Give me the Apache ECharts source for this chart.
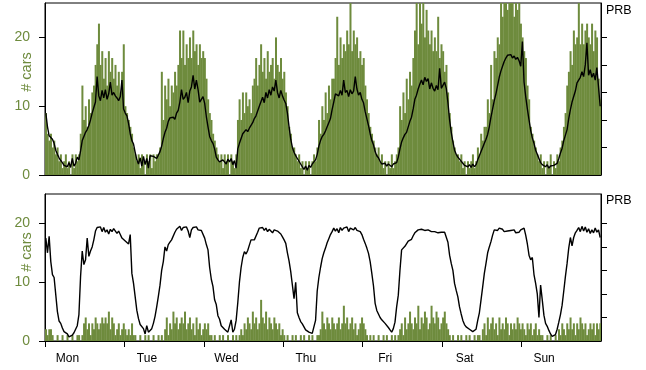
<!DOCTYPE html>
<html>
<head>
<meta charset="utf-8">
<title># cars / PRB</title>
<script src="https://cdn.jsdelivr.net/npm/echarts@6/dist/echarts.min.js"></script>
<style>
  html, body { margin: 0; padding: 0; background: #fff; }
  #chart { width: 646px; height: 370px; }
</style>
</head>
<body>
<div id="chart"></div>
<script>
var dayNames = ["Mon", "Tue", "Wed", "Thu", "Fri", "Sat", "Sun"];
var dayTicks = [0, 24, 48, 72, 96, 120, 144];
var carTicks = [0, 10, 20];
var prbTicks = [4, 8, 12, 16, 20];
var stepHours = 0.5; // one sample every half hour, starting Mon 00:00

// top panel
var carsTop = [
  9,6,5,6,4,5,3,4,2,3, 1,2,3,1,2,0,3,1,3,2, 3,6,13,8,10,7,11,9,12,13, 16,19,22,16,18,14,17,13,18,15, 17,14,16,13,15,12,15,19,
  10,9,8,7,6,4,3,2,3,1, 3,2,0,3,2,3,1,3,2,3, 3,4,15,8,13,11,14,10,13,12, 15,13,16,21,17,21,16,19,17,20, 17,21,18,19,16,19,17,18,
  17,14,11,9,8,6,5,4,3,2, 3,1,3,2,3,0,3,2,1,3, 8,11,8,12,9,12,10,11,9,13, 14,17,13,16,19,15,17,14,18,15, 16,17,14,20,16,15,17,14,
  15,12,10,7,6,4,4,3,2,3, 1,2,0,2,1,2,0,2,3,2, 4,8,6,10,8,12,9,13,11,14, 14,17,23,16,20,17,19,18,21,19, 25,18,21,19,20,17,18,16,
  17,13,11,9,7,6,5,4,3,4, 2,3,1,2,0,2,1,3,1,2, 3,4,10,8,12,9,14,11,15,13, 17,21,25,19,25,22,25,20,24,21, 19,21,18,20,18,23,17,19,
  18,15,16,12,9,7,5,4,3,3, 2,3,1,2,0,2,1,2,3,1, 2,4,3,6,5,7,7,11,9,16, 11,18,17,20,19,25,23,25,25,24, 25,25,25,23,25,24,25,22,
  20,18,17,13,11,7,6,5,4,3, 2,3,1,2,0,2,1,3,0,2, 1,3,2,4,5,7,9,13,15,18, 16,21,19,20,25,19,22,19,21,22, 20,19,22,18,21,20,14,11
];
var prbTop = [
  9,7,5.7,5.5,5.2,4.6,3.6,3,2.5,2.1, 1.8,1.4,1.6,1.2,1.8,1.1,2.4,1.3,1.7,2.6, 2.2,3.5,5,5.6,6.2,6.6,7.2,8,9,9.8, 10.6,14.3,11.5,10.8,12.3,11.2,12.4,11,11.8,13.5, 11.6,12,11.5,11.2,10.8,11.4,13.8,9.6,
  9,8.6,7.5,6,5,4.5,3.3,2.2,1.6,2.5, 1.3,2.7,1.5,2.4,1,2.8,2.9,2.7,2.9,2.4, 2.2,3.4,4.2,5.3,6.2,6.8,7.8,8.3,8.2,8.4, 8.1,9,9.4,10.6,12.4,11,11.3,12,10.5,12.2, 12.8,14.5,12.5,13.8,12.4,10.6,10.4,11.4,
  10.4,8.5,7,5.6,5,4.6,3.8,2.6,2.2,1.9, 1.7,2.2,1.9,1.6,2.3,1.9,2.4,1.5,2.1,1, 3.8,4.6,5.3,6,6.2,6.6,6.3,6.8,7,7.6, 8.2,8.6,9.3,10,10.2,11.3,10.5,12,11.2,12.4, 11.6,12.8,12.2,13.8,12,11.2,12.3,11.5,
  10.9,10.4,9,7,5.2,4,3.3,2.8,2.4,2, 1.6,1.2,0.8,1.3,0.7,1.4,1.1,1.6,1.9,2.2, 3,4.2,5,5.6,5.9,6.4,7,7.6,8.2,9.5, 10.6,11.8,12,11.5,12.3,11.6,13.8,12,12.3,11.4, 12.4,11.8,12.2,14.3,12.5,11.6,12,11,
  10.5,9.2,8.2,7.2,6,5,4.4,3.4,2.8,2.5, 2,1.6,1.4,1.7,1.3,1.6,1.5,1.2,1.6,1.4, 1.8,2.6,3.8,4.8,5.4,5.9,6.2,7,7.8,8.4, 9.6,11,11.6,12.5,13.2,13.8,13.1,14.2,13.6,14, 12.5,13.4,12.6,12.2,13,12.4,15.5,12.6,
  12.8,13.5,12.6,10.5,8,6.2,4.8,3.6,3,2.6, 2.3,2,1.7,1.4,1.6,1.2,1.5,1.1,1.6,1.2, 1.5,2.2,2.8,3.4,4,4.6,5.2,5.9,7,8.4, 9.6,10.8,11.8,13,14.2,15.1,15.8,16.5,17,17.4, 17.2,17.5,17,17.3,16.8,17.1,16.6,15.8,
  19.4,13.5,11.4,9.6,8,6.5,5.4,4.6,3.6,3, 2.4,1.8,1.5,1.4,1.2,1.5,1,1.3,1.1,1.4, 1.2,1.7,2.4,3.2,3.9,5,5.8,6.6,8.2,9.5, 10.6,11.4,12.2,13.4,13.8,14.2,15,14.3,16,19.2, 14.5,15.3,14.2,14.8,13.8,15.6,12.8,10
];

// bottom panel
var carsBottom = [
  2,1,2,2,1,0, 0,1,0,0,1,0,0,1,0,0,1,0,0,1,1,0, 1,3,4,2,3,1,3,2,4,3,2,3,4,3,4,3,5,2,4,3,1,2,3,1,2,3,
  2,1,2,1,3,1,1,0, 0,1,0,0,1,0,1,0,0,1,0,0,1,0,1,0, 2,4,1,3,2,5,3,4,2,3,4,3,5,2,3,4,2,3,1,4,2,3,1,2,
  3,2,3,1, 1,0,1,0,0,1,0,1,0,0,1,0,0,1,0,1,0,1, 2,1,3,2,4,3,2,5,3,4,2,3,7,4,3,5,2,4,3,2,4,3,2,3,1,2,
  1,0,1,0,0,1,0,1,0,0,1,0,1,0,0,1,0,1,0,0,1,1, 2,5,3,2,4,3,2,4,3,2,3,4,2,3,6,3,4,2,3,4,2,3,1,2,3,4,
  3,2,1, 0,1,0,1,0,0,1,0,0,1,0,1,0,0,1,0,1,0,1, 2,3,1,4,2,3,5,3,2,4,3,6,2,4,3,5,4,2,3,6,4,3,5,4,2,3,
  4,5,3,2, 1,0,1,0,0,1,0,1,0,0,1,0,1,0,0,1,0,1,1,0, 2,3,1,4,2,3,4,2,3,1,4,2,3,2,4,3,1,3,2,3,2,4,3,2,
  3,2,1,3,2,3,1,2,3,1,2,1, 1,0,0,1,0,1,0,0,1,0, 2,1,3,2,1,3,2,4,2,3,1,3,2,4,3,2,3,1,2,3,2,3,1,3,2,3
];
var prbBottom = [
  17.5,15,17.8,13.5,11.3,10.8,11,5,3.4,3, 2.2,1.6,1.3,1.2,0.7,0.4,1,1.4,2,2.6, 4.5,11,15.3,13,13.8,17.5,14.4,15.3,16,17.2, 18.7,19.3,19.2,19.4,18.6,19.3,18.5,18.9,18.2,19, 18.6,19.1,18.8,18.3,18.7,18.1,17.5,17.2,
  17,16.8,16.5,18.1,11.5,9.8,7.5,5.2,3.8,2.8, 2.5,2.1,1.2,2.6,1.5,1.8,2.1,3,4.2,5.8, 7.6,9.5,12,13.5,16,15.3,16.4,16.8,17.2,16.9, 18.5,19,19.2,19.5,18.8,19.3,19.1,19.4,18.7,17.6, 18.9,19.3,19.1,19.4,18.9,19.2,18.8,18.7,
  17.5,16.4,15.5,12.5,10.5,9.3,7,6.2,4.3,3.7, 2.6,2.3,2,1.7,1.5,1.3,3.6,1.5,2,3.5, 6.5,10,12.5,14.2,15.2,14.8,15.4,16.3,17.2,17.5, 17.2,17.4,18.5,19.2,19,19.3,18.8,19.2,18.6,19, 19.1,18.4,18.9,19.2,18.7,18.9,18.2,17.7,
  17.2,16.6,15,13.6,11.8,9.5,7.2,10,4.8,4, 3.3,2.9,2.4,1.9,1.7,1.5,1.4,1.3,1.6,3.5, 8.5,10.8,12.5,14,15,15.8,16.7,17.4,18.1,18.6, 19.2,18.7,19.1,18.4,19.3,18.8,19.2,18.9,19.4,18.6, 19.2,19.4,18.9,19.3,18.8,19.1,18.6,18.1,
  17.3,16.6,15.8,14.9,13.5,11.5,9.4,6.4,5.2,4.6, 4,3.6,3.3,3,2.7,2.3,1.9,1.5,2.1,3.2, 5.8,7.8,12,15.5,15.8,16.1,16.4,17,16.7,17.3, 17.9,18.4,18.7,18.9,18.6,19,18.7,18.8,18.5,18.9, 18.7,18.6,18.9,18.6,18.8,18.4,18.7,18.5,
  18.8,18.5,18.6,16.8,14.6,13.2,12,9.8,8.6,7.5, 5.8,4.6,3.5,2.8,2.4,2.1,2,1.8,1.6,1.5, 2,3.5,4.8,7,9.2,11.5,13.2,15,16,16.9, 18,18.9,19.1,18.8,19.2,18.9,19,18.6,18.9,18.7, 18.5,18.8,18.6,18.9,18.4,18.7,18.5,18.9,
  18.7,19.2,18,16.5,14.6,13.8,14.2,11.3,9.8,8, 4,9.5,7,4.4,3,2.5,1.8,1.2,0.8,0.7, 1.1,2,3.2,4.5,6.1,8.5,11,13.2,15.8,17.6, 16.2,17.6,18.4,18.8,19.3,18.6,19.5,18.7,19.4,18.5, 19.1,18.3,18.9,18.4,19.2,18.5,18.9,17.6
];

var green = "#6e8b3d";
var font = "'Liberation Sans', Arial, Helvetica, sans-serif";
var labelShift = 6.8; // day names sit a little right of the midnight tick

function pairs(values) {
  return values.map(function (v, i) {
    return [i * stepHours + stepHours / 2, v];
  });
}

// histogram-like bars: each one fills its half-hour slot, with a hair of overlap
// so the canvas does not leave white seams between neighbours
function renderBar(params, api) {
  var x = api.value(0);
  var v = api.value(1);
  if (!v) return null;
  var topLeft = api.coord([x - stepHours / 2, v]);
  var bottomRight = api.coord([x + stepHours / 2, 0]);
  return {
    type: "rect",
    shape: {
      x: topLeft[0],
      y: topLeft[1],
      width: bottomRight[0] - topLeft[0] + 0.35,
      height: bottomRight[1] - topLeft[1]
    },
    style: { fill: green }
  };
}

function xAxisFor(gridIndex, withLabels) {
  return {
    type: "value",
    gridIndex: gridIndex,
    min: 0,
    max: 168,
    axisLine: { show: true, onZero: false, lineStyle: { color: "#000", width: 1 } },
    axisTick: {
      show: withLabels,
      customValues: dayTicks,
      length: 6,
      lineStyle: { color: "#000" }
    },
    axisLabel: {
      show: withLabels,
      customValues: dayTicks.map(function (d) { return d + labelShift; }),
      formatter: function (v) { return dayNames[Math.floor(v / 24)]; },
      color: "#000",
      fontSize: 12,
      fontFamily: font,
      margin: 12
    },
    splitLine: { show: false }
  };
}

function carsAxis(gridIndex) {
  return {
    type: "value",
    gridIndex: gridIndex,
    position: "left",
    min: 0,
    max: 25,
    axisLine: { show: true, lineStyle: { color: "#000" } },
    axisTick: { show: true, customValues: carTicks, length: 6, lineStyle: { color: "#000" } },
    axisLabel: { customValues: carTicks, color: green, fontSize: 14, fontFamily: font, margin: 15 },
    splitLine: { show: false }
  };
}

function prbAxis(gridIndex) {
  return {
    type: "value",
    gridIndex: gridIndex,
    position: "right",
    min: 0,
    max: 25,
    axisLine: { show: true, lineStyle: { color: "#000" } },
    axisTick: { show: true, customValues: prbTicks, length: 6, lineStyle: { color: "#000" } },
    axisLabel: { show: false },
    splitLine: { show: false }
  };
}

function sideText(x, y, text, color, size, rotated) {
  return {
    type: "text",
    x: x,
    y: y,
    rotation: rotated ? Math.PI / 2 : 0,
    silent: true,
    style: {
      text: text,
      fill: color,
      font: size + "px " + font,
      textAlign: rotated ? "center" : "left",
      textVerticalAlign: "middle"
    }
  };
}

var myChart = echarts.init(document.getElementById("chart"), null, { renderer: "canvas" });
var option = {
  animation: false,
  backgroundColor: "#fff",
  grid: [
    { left: 45, right: 45, top: 3, height: 172, show: true, borderColor: "#000", borderWidth: 1 },
    { left: 45, right: 45, top: 194, height: 147, show: true, borderColor: "#000", borderWidth: 1 }
  ],
  xAxis: [xAxisFor(0, false), xAxisFor(1, true)],
  yAxis: [carsAxis(0), prbAxis(0), carsAxis(1), prbAxis(1)],
  graphic: [
    sideText(27, 72, "# cars", green, 14.5, true),
    sideText(27, 252, "# cars", green, 14.5, true),
    sideText(606, 11, "PRB", "#000", 12.5, false),
    sideText(606, 201, "PRB", "#000", 12.5, false)
  ],
  series: [
    {
      type: "custom", name: "# cars", xAxisIndex: 0, yAxisIndex: 0,
      data: pairs(carsTop), renderItem: renderBar, silent: true, clip: true
    },
    {
      type: "line", name: "PRB", xAxisIndex: 0, yAxisIndex: 1,
      data: pairs(prbTop), showSymbol: false, silent: true, z: 3,
      lineStyle: { color: "#000", width: 1.4 }
    },
    {
      type: "custom", name: "# cars", xAxisIndex: 1, yAxisIndex: 2,
      data: pairs(carsBottom), renderItem: renderBar, silent: true, clip: true
    },
    {
      type: "line", name: "PRB", xAxisIndex: 1, yAxisIndex: 3,
      data: pairs(prbBottom), showSymbol: false, silent: true, z: 3,
      lineStyle: { color: "#000", width: 1.4 }
    }
  ]
};
myChart.setOption(option, true);
</script>
</body>
</html>
